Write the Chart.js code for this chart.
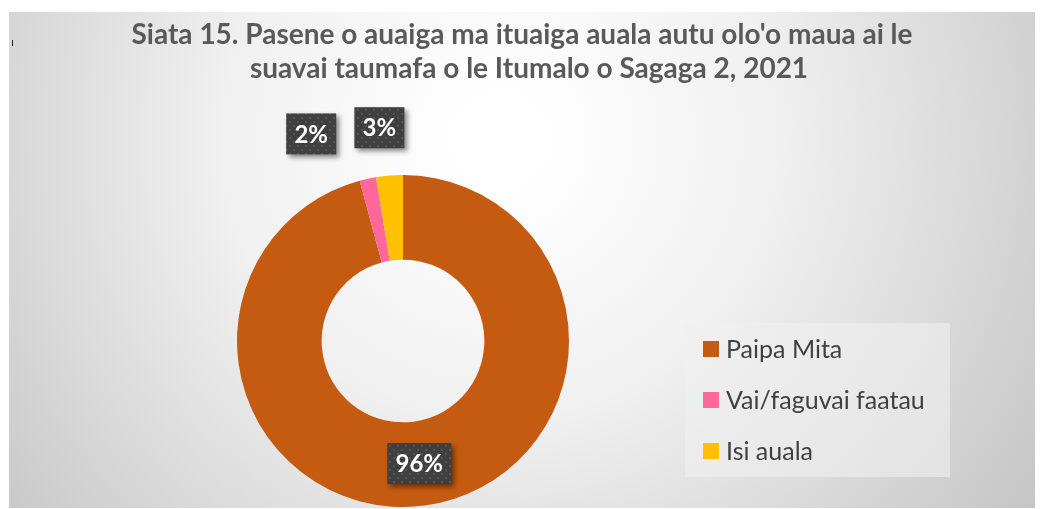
<!DOCTYPE html>
<html>
<head>
<meta charset="utf-8">
<script src="https://cdn.jsdelivr.net/npm/chart.js@4"></script>
<style>
  html,body{margin:0;padding:0;background:#fff;}
  #wrap{width:1041px;height:509px;position:relative;}
</style>
</head>
<body>
<div id="wrap"><canvas id="pieChart" width="1041" height="509"></canvas></div>
<script>
// Data
const categories = ['Paipa Mita', 'Vai/faguvai faatau', 'Isi auala'];
const shares = [95.8, 1.6, 2.6];
const shareLabels = ['96%', '2%', '3%'];
const colors = ['#C55A11', '#FF6699', '#FFC000'];
const titleLines = ["Siata 15. Pasene o auaiga ma ituaiga auala autu olo'o maua ai le", 'suavai taumafa o le Itumalo o Sagaga 2, 2021'];

// dotted dark pattern for the data label boxes
function makePattern(ctx) {
  const p = document.createElement('canvas');
  p.width = 8; p.height = 8;
  const pc = p.getContext('2d');
  pc.fillStyle = '#3f3f3f';
  pc.fillRect(0, 0, 8, 8);
  pc.fillStyle = '#555';
  pc.fillRect(1, 1, 2, 2);
  pc.fillRect(5, 5, 2, 2);
  return ctx.createPattern(p, 'repeat');
}

const backdrop = {
  id: 'backdrop',
  beforeDraw(chart) {
    const ctx = chart.ctx;
    ctx.save();
    ctx.fillStyle = '#fff';
    ctx.fillRect(0, 0, chart.width, chart.height);
    const g = ctx.createRadialGradient(500, 140, 40, 500, 140, 720);
    g.addColorStop(0, '#ffffff');
    g.addColorStop(0.35, '#f0f0f0');
    g.addColorStop(1, '#bdbdbd');
    ctx.fillStyle = g;
    ctx.fillRect(9, 12, 1026, 496);
    ctx.fillStyle = '#222';
    ctx.fillRect(12, 40, 1, 6);

    ctx.fillStyle = '#595959';
    ctx.font = 'bold 28px Lato, "Open Sans", sans-serif';
    ctx.textAlign = 'center';
    ctx.textBaseline = 'alphabetic';
    ctx.fillText(titleLines[0], 522, 44);
    ctx.fillText(titleLines[1], 529, 78);
    ctx.restore();
  },
  afterDatasetsDraw(chart) {
    const ctx = chart.ctx;
    const meta = chart.getDatasetMeta(0);
    const pat = makePattern(ctx);
    ctx.save();
    ctx.font = 'bold 24px Lato, "Open Sans", sans-serif';
    ctx.textAlign = 'center';
    ctx.textBaseline = 'middle';
    meta.data.forEach((arc, i) => {
      const mid = (arc.startAngle + arc.endAngle) / 2;
      let x, y;
      if (i === 0) {
        const r = (arc.innerRadius + arc.outerRadius) / 2;
        x = arc.x + Math.cos(mid) * r;
        y = arc.y + Math.sin(mid) * r;
      } else {
        const r = arc.outerRadius + 50;
        x = arc.x + Math.cos(mid) * r + (i === 1 ? -46 : -6);
        y = arc.y + Math.sin(mid) * r + (i === 1 ? 4 : 2);
      }
      const w = i === 0 ? 64 : 50, h = 41;
      ctx.shadowColor = 'rgba(0,0,0,0.45)';
      ctx.shadowBlur = 5;
      ctx.shadowOffsetX = 3;
      ctx.shadowOffsetY = 3;
      ctx.fillStyle = pat;
      ctx.fillRect(x - w / 2, y - h / 2, w, h);
      ctx.shadowColor = 'transparent';
      ctx.fillStyle = '#fff';
      ctx.fillText(shareLabels[i], x, y + 1);
    });

    // legend box
    ctx.fillStyle = 'rgba(240,240,240,0.6)';
    ctx.fillRect(685, 323, 265, 154);
    ctx.font = '25px Lato, "Open Sans", sans-serif';
    ctx.textAlign = 'left';
    categories.forEach((c, i) => {
      const yy = 349 + i * 51;
      ctx.fillStyle = colors[i];
      ctx.fillRect(703, yy - 8, 16, 16);
      ctx.fillStyle = '#404040';
      ctx.fillText(c, 726, yy + 1);
    });
    ctx.restore();
  }
};

new Chart(document.getElementById('pieChart').getContext('2d'), {
  type: 'doughnut',
  data: {
    labels: categories,
    datasets: [{ data: shares, backgroundColor: colors, borderWidth: 0 }]
  },
  options: {
    responsive: false,
    animation: false,
    cutout: '49%',
    layout: { padding: { left: 237, top: 175, right: 472, bottom: 2 } },
    plugins: { legend: { display: false }, tooltip: { enabled: false }, title: { display: false } }
  },
  plugins: [backdrop]
});
</script>
</body>
</html>
